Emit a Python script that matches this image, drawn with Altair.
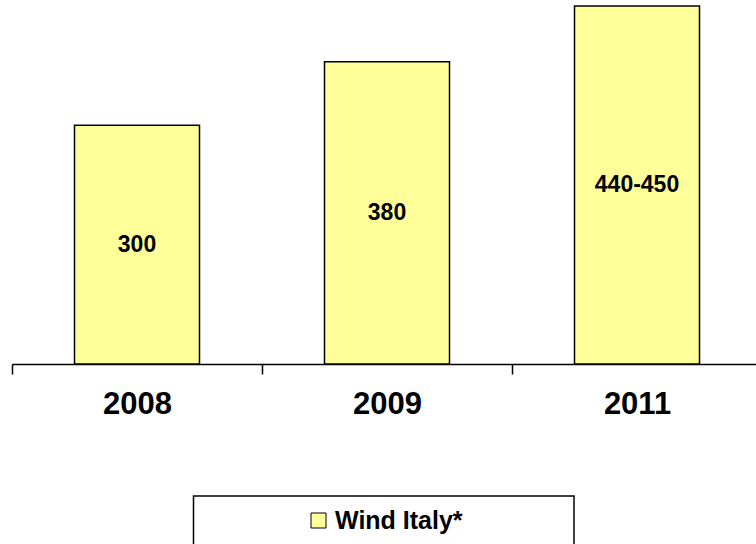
import altair as alt
import pandas as pd

# Wind capacity by year
years = ["2008", "2009", "2011"]
values = [300, 380, 450]
value_labels = ["300", "380", "440-450"]
series = ["Wind Italy*"] * 3

df = pd.DataFrame({"year": years, "value": values, "label": value_labels, "series": series})

FONT = "Liberation Sans"

x_scale = alt.Scale(range=[0, 750], paddingInner=0, paddingOuter=0)
y_scale = alt.Scale(domain=[0, 457.5], nice=False, zero=True)

x_axis = alt.Axis(
    title=None,
    labelAngle=0,
    labelFont=FONT,
    labelFontSize=31,
    labelFontWeight="bold",
    labelColor="black",
    labelPadding=15,
    domainColor="black",
    domainWidth=1.5,
    tickColor="black",
    tickWidth=1.5,
    tickSize=10,
    tickBand="extent",
)

base = alt.Chart(df)

bars = base.mark_bar(stroke="black", strokeWidth=1.5, width={"band": 0.5}).encode(
    x=alt.X("year:N", sort=years, scale=x_scale, axis=x_axis),
    y=alt.Y("value:Q", scale=y_scale, axis=None),
    color=alt.Color(
        "series:N",
        scale=alt.Scale(range=["#FFFF99"]),
        legend=alt.Legend(
            title=None,
            orient="none",
            legendX=294,
            legendY=508,
            symbolType="square",
            symbolSize=225,
            symbolStrokeColor="black",
            symbolStrokeWidth=1,
            symbolFillColor="#FFFF99",
            labelFont=FONT,
            labelFontSize=25,
            labelFontWeight="bold",
            labelColor="black",
            labelOffset=4,
            padding=0,
        ),
    ),
)

texts = base.transform_calculate(mid="datum.value / 2").mark_text(
    font=FONT, fontSize=23, fontWeight="bold", color="black", baseline="middle"
).encode(
    x=alt.X("year:N", sort=years, scale=x_scale, axis=x_axis),
    y=alt.Y("mid:Q", scale=y_scale, axis=None),
    text="label:N",
)

# frame around the legend
frame = alt.Chart(pd.DataFrame({"k": [0]})).mark_rect(
    filled=False, stroke="black", strokeWidth=1.5
).encode(
    x=alt.value(181.5), x2=alt.value(562), y=alt.value(496), y2=alt.value(620)
)

chart = (
    alt.layer(bars, texts, frame)
    .properties(
        width=744,
        height=364,
        background="white",
        autosize=alt.AutoSizeParams(type="none"),
        padding={"left": 12, "top": 0, "right": 0, "bottom": 180},
    )
    .configure_view(strokeWidth=0, stroke=None)
)

chart.save("out.html", embed_options={"renderer": "svg", "actions": False})
